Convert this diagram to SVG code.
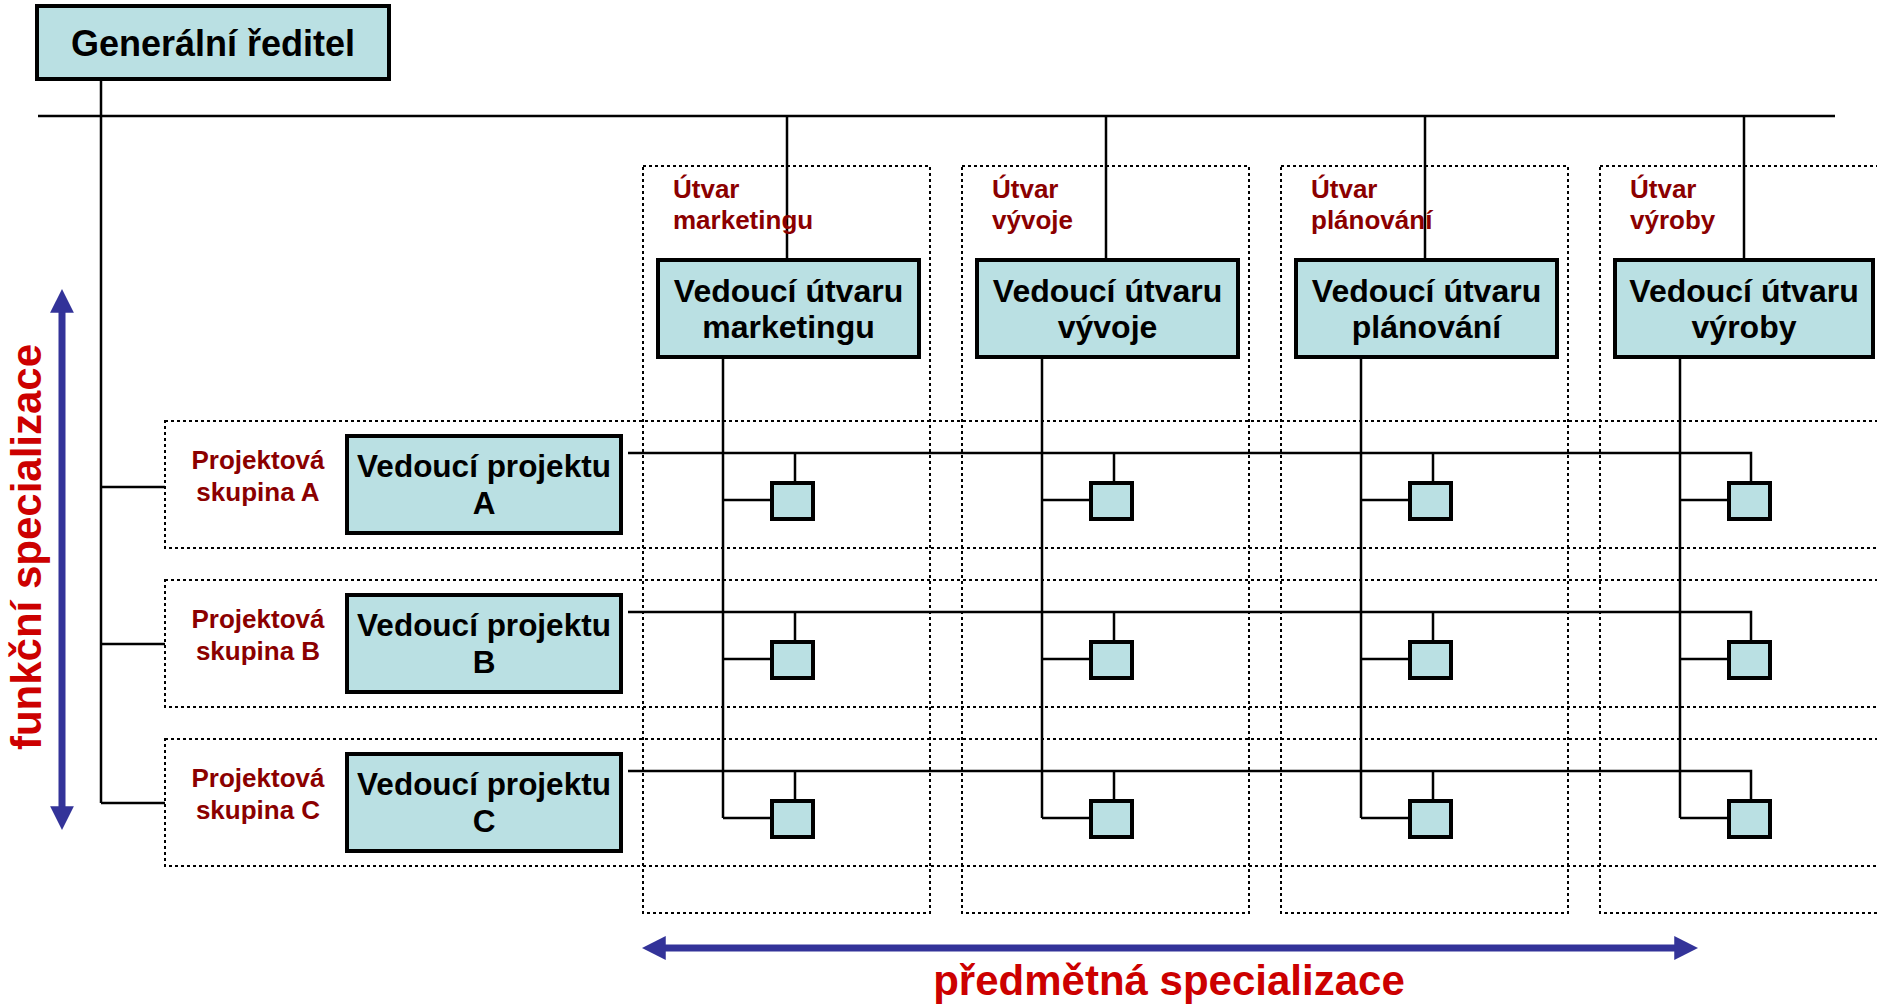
<svg xmlns="http://www.w3.org/2000/svg" width="1877" height="1006" viewBox="0 0 1877 1006">
<style>
.box{fill:#BAE0E3;stroke:#000;stroke-width:4}
.dot{fill:none;stroke:#000;stroke-width:2;stroke-dasharray:3 3}
.ln{fill:none;stroke:#000;stroke-width:2.5}
.t{font-family:"Liberation Sans",Arial,sans-serif;font-weight:bold;fill:#000;text-anchor:middle}
.lab{font-family:"Liberation Sans",Arial,sans-serif;font-weight:bold;fill:#8B0000;font-size:26px}
.big{font-family:"Liberation Sans",Arial,sans-serif;font-weight:bold;fill:#CC0000;font-size:42px;text-anchor:middle}
.arr{fill:none;stroke:#333399;stroke-width:7}
</style>
<defs>
<marker id="ah" viewBox="0 0 10 10" refX="2" refY="5" markerWidth="3.4" markerHeight="3.4" orient="auto-start-reverse" markerUnits="strokeWidth">
<path d="M0,0 L10,5 L0,10 Z" fill="#333399"/>
</marker>
</defs>
<rect width="1877" height="1006" fill="#fff"/>

<g id="areas">
<rect class="dot" x="165" y="421" width="1740" height="127"/>
<rect class="dot" x="165" y="580" width="1740" height="127"/>
<rect class="dot" x="165" y="739" width="1740" height="127"/>
<rect class="dot" x="643" y="166" width="287" height="747"/>
<rect class="dot" x="962" y="166" width="287" height="747"/>
<rect class="dot" x="1281" y="166" width="287" height="747"/>
<rect class="dot" x="1600" y="166" width="287" height="747"/>
</g>

<g id="connectors">
<path class="ln" d="M101,80 V803 M101,487 H165 M101,644 H165 M101,803 H165"/>
<path class="ln" d="M38,116 H1835"/>
<path class="ln" d="M787,116 V260 M1106,116 V260 M1425,116 V260 M1744,116 V260"/>
<path class="ln" d="M723,357 V818 M1042,357 V818 M1361,357 V818 M1680,357 V818"/>
<path class="ln" d="M628,453 H1751 V483 M795,453 V483 M1114,453 V483 M1433,453 V483"/>
<path class="ln" d="M628,612 H1751 V642 M795,612 V642 M1114,612 V642 M1433,612 V642"/>
<path class="ln" d="M628,771 H1751 V801 M795,771 V801 M1114,771 V801 M1433,771 V801"/>
<path class="ln" d="M723,500 H772 M1042,500 H1091 M1361,500 H1410 M1680,500 H1729"/>
<path class="ln" d="M723,659 H772 M1042,659 H1091 M1361,659 H1410 M1680,659 H1729"/>
<path class="ln" d="M723,818 H772 M1042,818 H1091 M1361,818 H1410 M1680,818 H1729"/>
</g>

<g id="ceo">
<rect class="box" x="37" y="6" width="352" height="73"/>
<text class="t" x="213" y="56" font-size="36">Generální ředitel</text>
</g>

<g id="dept-marketing">
<text class="lab" x="673" y="198">Útvar</text>
<text class="lab" x="673" y="229">marketingu</text>
<rect class="box" x="658" y="260" width="261" height="97"/>
<text class="t" x="788.5" y="302" font-size="32">Vedoucí útvaru</text>
<text class="t" x="788.5" y="338" font-size="32">marketingu</text>
</g>
<g id="dept-vyvoj">
<text class="lab" x="992" y="198">Útvar</text>
<text class="lab" x="992" y="229">vývoje</text>
<rect class="box" x="977" y="260" width="261" height="97"/>
<text class="t" x="1107.5" y="302" font-size="32">Vedoucí útvaru</text>
<text class="t" x="1107.5" y="338" font-size="32">vývoje</text>
</g>
<g id="dept-planovani">
<text class="lab" x="1311" y="198">Útvar</text>
<text class="lab" x="1311" y="229">plánování</text>
<rect class="box" x="1296" y="260" width="261" height="97"/>
<text class="t" x="1426.5" y="302" font-size="32">Vedoucí útvaru</text>
<text class="t" x="1426.5" y="338" font-size="32">plánování</text>
</g>
<g id="dept-vyroba">
<text class="lab" x="1630" y="198">Útvar</text>
<text class="lab" x="1630" y="229">výroby</text>
<rect class="box" x="1615" y="260" width="258" height="97"/>
<text class="t" x="1744" y="302" font-size="32">Vedoucí útvaru</text>
<text class="t" x="1744" y="338" font-size="32">výroby</text>
</g>

<g id="project-a">
<text class="lab" x="258" y="469" text-anchor="middle">Projektová</text>
<text class="lab" x="258" y="501" text-anchor="middle">skupina A</text>
<rect class="box" x="347" y="436" width="274" height="97"/>
<text class="t" x="484" y="477" font-size="31.5">Vedoucí projektu</text>
<text class="t" x="484" y="514" font-size="31.5">A</text>
</g>
<g id="project-b">
<text class="lab" x="258" y="628" text-anchor="middle">Projektová</text>
<text class="lab" x="258" y="660" text-anchor="middle">skupina B</text>
<rect class="box" x="347" y="595" width="274" height="97"/>
<text class="t" x="484" y="636" font-size="31.5">Vedoucí projektu</text>
<text class="t" x="484" y="673" font-size="31.5">B</text>
</g>
<g id="project-c">
<text class="lab" x="258" y="787" text-anchor="middle">Projektová</text>
<text class="lab" x="258" y="819" text-anchor="middle">skupina C</text>
<rect class="box" x="347" y="754" width="274" height="97"/>
<text class="t" x="484" y="795" font-size="31.5">Vedoucí projektu</text>
<text class="t" x="484" y="832" font-size="31.5">C</text>
</g>

<g id="members">
<rect class="box" x="772" y="483" width="41" height="36"/>
<rect class="box" x="1091" y="483" width="41" height="36"/>
<rect class="box" x="1410" y="483" width="41" height="36"/>
<rect class="box" x="1729" y="483" width="41" height="36"/>
<rect class="box" x="772" y="642" width="41" height="36"/>
<rect class="box" x="1091" y="642" width="41" height="36"/>
<rect class="box" x="1410" y="642" width="41" height="36"/>
<rect class="box" x="1729" y="642" width="41" height="36"/>
<rect class="box" x="772" y="801" width="41" height="36"/>
<rect class="box" x="1091" y="801" width="41" height="36"/>
<rect class="box" x="1410" y="801" width="41" height="36"/>
<rect class="box" x="1729" y="801" width="41" height="36"/>
</g>

<g id="axis-vertical">
<line class="arr" x1="62" y1="308" x2="62" y2="811" marker-start="url(#ah)" marker-end="url(#ah)"/>
<text class="big" transform="translate(41,547) rotate(-90)">funkční specializace</text>
</g>
<g id="axis-horizontal">
<line class="arr" x1="661" y1="948" x2="1679" y2="948" marker-start="url(#ah)" marker-end="url(#ah)"/>
<text class="big" x="1169" y="995">předmětná specializace</text>
</g>
</svg>
